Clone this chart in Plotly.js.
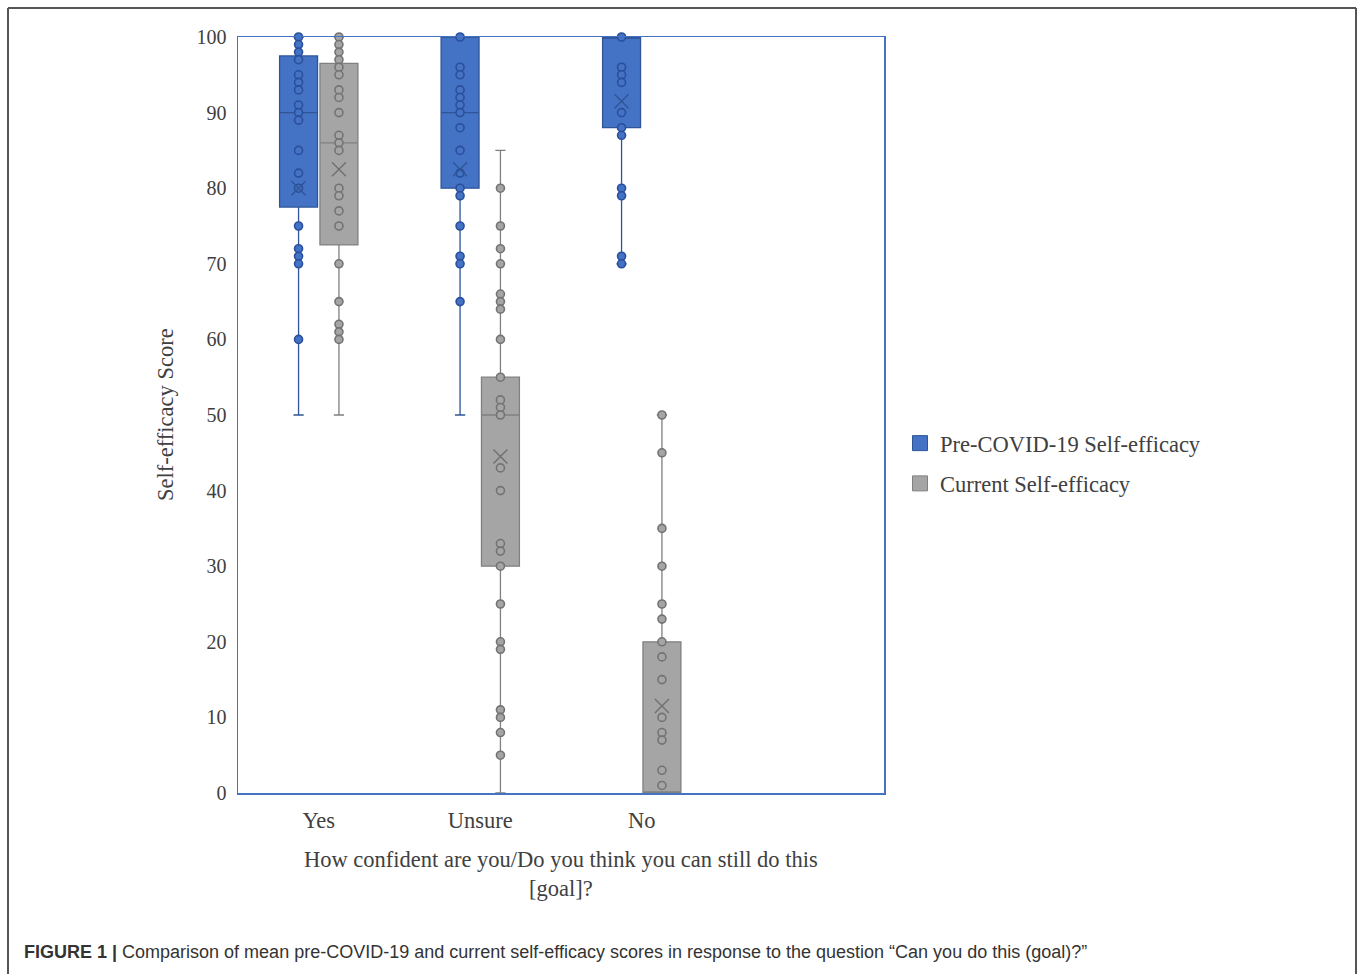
<!DOCTYPE html>
<html>
<head>
<meta charset="utf-8">
<script src="https://cdn.plot.ly/plotly-3.0.1.min.js"></script>
<style>
html,body{margin:0;padding:0;background:#fff;}
#chart{width:1358px;height:974px;}
</style>
</head>
<body>
<div id="chart"></div>
<script>
// ---- Data ----
const categories = ['Yes', 'Unsure', 'No'];
const seriesNames = ['Pre-COVID-19 Self-efficacy', 'Current Self-efficacy'];

// Pre-COVID-19 box statistics (per category)
const preQ1     = [77.5, 80, 88];
const preMedian = [90, 90, 100];
const preQ3     = [97.5, 100, 100];
const preLower  = [50, 50, 70];
const preUpper  = [100, 100, 100];
const preMean   = [80, 82.5, 91.5];

// Current box statistics (per category)
const curQ1     = [72.5, 30, 0];
const curMedian = [86, 50, 0];
const curQ3     = [96.5, 55, 20];
const curLower  = [50, 0, 0];
const curUpper  = [100, 85, 50];
const curMean   = [82.5, 44.5, 11.5];

// Individual points
const prePointsYes    = [100, 99, 98, 97, 95, 94, 93, 91, 90, 89, 85, 82, 80, 75, 72, 71, 70, 60];
const prePointsUnsure = [100, 96, 95, 93, 92, 91, 90, 88, 85, 82, 80, 79, 75, 71, 70, 65];
const prePointsNo     = [100, 96, 95, 94, 90, 88, 87, 80, 79, 71, 70];
const curPointsYes    = [100, 99, 98, 97, 96, 95, 93, 92, 90, 87, 86, 85, 80, 79, 77, 75, 70, 65, 62, 61, 60];
const curPointsUnsure = [80, 75, 72, 70, 66, 65, 64, 60, 55, 52, 51, 50, 43, 40, 33, 32, 30, 25, 20, 19, 11, 10, 8, 5];
const curPointsNo     = [50, 45, 35, 30, 25, 23, 20, 18, 15, 10, 8, 7, 3, 1];

const yTicks = [0, 10, 20, 30, 40, 50, 60, 70, 80, 90, 100];

// ---- Styling ----
const blueFill = '#4472C4', blueEdge = '#2F5597';
const grayFill = '#A5A5A5', grayEdge = '#808080';
const serif = '"Liberation Serif", "Times New Roman", serif';
const txt = '#404040';
const offset = 0.125, boxW = 0.235;

const idx = categories.map((c, i) => i);
const posPre = idx.map(i => i - offset);
const posCur = idx.map(i => i + offset);

function boxTrace(name, pos, q1, med, q3, lo, up, fill, edge) {
  return {
    type: 'box', name: name, x: pos, q1: q1, median: med, q3: q3,
    lowerfence: lo, upperfence: up, boxpoints: false, width: boxW,
    whiskerwidth: 0.27, fillcolor: fill, line: {color: edge, width: 1.3},
    showlegend: false, hoverinfo: 'skip'
  };
}
function pointTrace(pos, lists, fill, edge) {
  const xs = [], ys = [];
  lists.forEach((l, i) => l.forEach(v => { xs.push(pos[i]); ys.push(v); }));
  return {
    type: 'scatter', mode: 'markers', x: xs, y: ys, cliponaxis: false,
    marker: {symbol: 'circle', size: 8, color: fill, line: {color: edge, width: 1.6}},
    showlegend: false, hoverinfo: 'y'
  };
}
function meanTrace(pos, means, edge) {
  return {
    type: 'scatter', mode: 'markers', x: pos, y: means, cliponaxis: false,
    marker: {symbol: 'x-thin-open', size: 14, color: edge, line: {color: edge, width: 1.4}},
    showlegend: false, hoverinfo: 'y'
  };
}
function legendTrace(name, fill, edge, grp) {
  return {
    type: 'scatter', mode: 'markers', name: name, x: [null], y: [null],
    legendgroup: grp,
    marker: {symbol: 'square', size: 15, color: fill, line: {color: edge, width: 1}}
  };
}

const data = [
  boxTrace(seriesNames[0], posPre, preQ1, preMedian, preQ3, preLower, preUpper, blueFill, blueEdge),
  boxTrace(seriesNames[1], posCur, curQ1, curMedian, curQ3, curLower, curUpper, grayFill, grayEdge),
  pointTrace(posPre, [prePointsYes, prePointsUnsure, prePointsNo], blueFill, '#2a4f9c'),
  pointTrace(posCur, [curPointsYes, curPointsUnsure, curPointsNo], grayFill, '#737373'),
  meanTrace(posPre, preMean, blueEdge),
  meanTrace(posCur, curMean, '#707070'),
  legendTrace(seriesNames[0], blueFill, blueEdge, 'a'),
  legendTrace(seriesNames[1], grayFill, grayEdge, 'b')
];

// plot area: x 238..884, y 37..793
const L = 238, R = 884, T = 37, B = 793, W = R - L, H = B - T;
const px = x => (x - L) / W;
const py = y => (B - y) / H;

const layout = {
  width: 1358, height: 974,
  margin: {l: L, r: 1358 - R, t: T, b: 974 - B},
  paper_bgcolor: '#fff', plot_bgcolor: '#fff',
  font: {family: serif, color: txt, size: 20},
  showlegend: true,
  legend: {
    x: px(900), y: py(422), xanchor: 'left', yanchor: 'top',
    font: {family: serif, size: 22.5, color: txt},
    tracegroupgap: 8, itemwidth: 30, bgcolor: 'rgba(0,0,0,0)'
  },
  xaxis: {
    range: [-0.5, 3.5], tickvals: idx, ticktext: categories,
    showgrid: false, zeroline: false, ticks: '',
    showline: true, mirror: true, linecolor: '#4472C4', linewidth: 1.5,
    tickfont: {family: serif, size: 22.5, color: txt}, ticklabelstandoff: 6,
    fixedrange: true
  },
  yaxis: {
    range: [0, 100], tickvals: yTicks, ticktext: yTicks.map(String),
    showgrid: false, zeroline: false, ticks: '',
    showline: true, mirror: true, linecolor: '#4472C4', linewidth: 1.5,
    tickfont: {family: serif, size: 20, color: txt}, ticklabelstandoff: 6,
    fixedrange: true
  },
  annotations: [
    {xref: 'paper', yref: 'paper', x: px(165), y: 0.5, textangle: -90,
     text: 'Self-efficacy Score', showarrow: false, xanchor: 'center', yanchor: 'middle',
     font: {family: serif, size: 22.5, color: txt}},
    {xref: 'paper', yref: 'paper', x: px(561), y: py(845), xanchor: 'center', yanchor: 'top',
     text: 'How confident are you/Do you think you can still do this<br>[goal]?', showarrow: false,
     font: {family: serif, size: 22.5, color: txt}},
    {xref: 'paper', yref: 'paper', x: px(22), y: py(952), xanchor: 'left', yanchor: 'middle',
     text: '<b>FIGURE 1 |</b> Comparison of mean pre-COVID-19 and current self-efficacy scores in response to the question “Can you do this (goal)?”',
     showarrow: false, align: 'left',
     font: {family: '"Liberation Sans", Arial, sans-serif', size: 18, color: '#333'}}
  ],
  shapes: [
    {type: 'line', xref: 'paper', yref: 'paper', x0: px(8), x1: px(1356), y0: py(8), y1: py(8),
     line: {color: '#555', width: 2}},
    {type: 'line', xref: 'paper', yref: 'paper', x0: px(8), x1: px(8), y0: py(8), y1: py(990),
     line: {color: '#555', width: 2}},
    {type: 'line', xref: 'paper', yref: 'paper', x0: px(1356), x1: px(1356), y0: py(8), y1: py(990),
     line: {color: '#555', width: 2}}
  ]
};

Plotly.newPlot('chart', data, layout, {displayModeBar: false, staticPlot: true});
</script>
</body>
</html>
